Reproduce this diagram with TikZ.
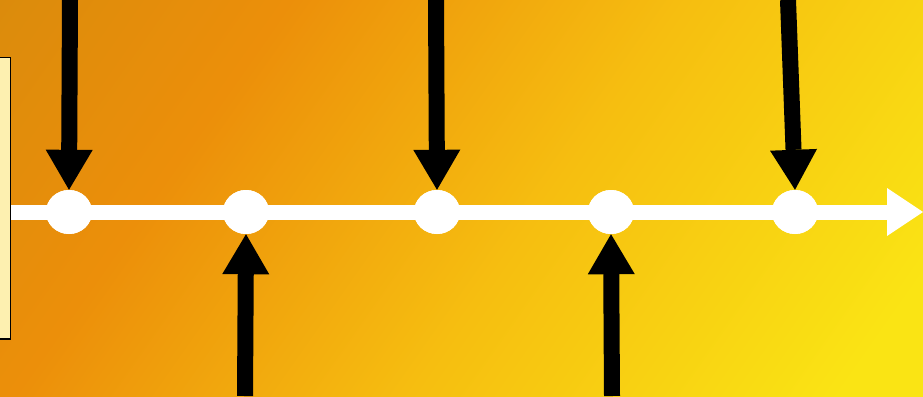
\documentclass[tikz,border=0pt]{standalone}
\usetikzlibrary{arrows.meta,shapes.geometric}
\definecolor{bgA}{HTML}{CC880E}
\definecolor{bgB}{HTML}{EC8F0A}
\definecolor{bgC}{HTML}{F6BE10}
\definecolor{bgD}{HTML}{FAE414}
\definecolor{boxfill}{HTML}{FDF0B0}
\pgfdeclareverticalshading{bgshade}{100bp}{color(0bp)=(bgD); color(20bp)=(bgD); color(45bp)=(bgC); color(68bp)=(bgB); color(100bp)=(bgA)}
\tikzset{
  dot/.style={ellipse, fill=white, minimum width=46pt, minimum height=44pt, inner sep=0pt},
  blackarrow/.style={line width=16pt, black, -{Triangle[length=40pt,width=47pt,line width=0pt]}},
  timeline/.style={line width=15pt, white, -{Triangle[length=36pt,width=48pt,line width=0pt]}},
}
\begin{document}
\begin{tikzpicture}[x=1pt,y=-1pt]
\useasboundingbox (0,0) rectangle (923,396);
\clip (0,0) rectangle (923,396);
\shade[shading=bgshade, shading angle=55] (0,0) rectangle (923,396);
\node[draw=black, line width=1.5pt, fill=boxfill, minimum width=30pt, minimum height=281pt, inner sep=0pt, anchor=north east] (box) at (11,57) {};
\coordinate (end) at (923,212);
\node[dot] (d1) at (69,212) {};
\node[dot] (d2) at (246,212) {};
\node[dot] (d3) at (437,212) {};
\node[dot] (d4) at (611,212) {};
\node[dot] (d5) at (795,212) {};
\draw[timeline] (box.east |- end) -- (end);
\node[dot] at (d1) {};
\node[dot] at (d2) {};
\node[dot] at (d3) {};
\node[dot] at (d4) {};
\node[dot] at (d5) {};
\coordinate (t1) at (70,0);
\coordinate (t3) at (436,0);
\coordinate (t5) at (788,0);
\coordinate (b2) at (245,396);
\coordinate (b4) at (612,396);
\draw[blackarrow] (t1) -- (d1.north);
\draw[blackarrow] (t3) -- (d3.north);
\draw[blackarrow] (t5) -- (d5.north);
\draw[blackarrow] (b2) -- (d2.south);
\draw[blackarrow] (b4) -- (d4.south);
\end{tikzpicture}
\end{document}
